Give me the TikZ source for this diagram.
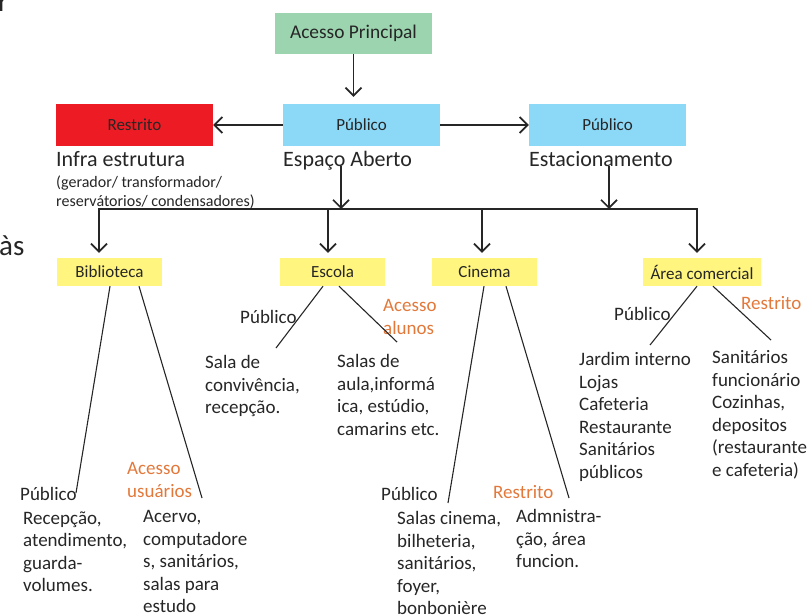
\documentclass[tikz,border=0pt]{standalone}
\usepackage{fontspec}
\setmainfont{Carlito}
\usepackage{xcolor}
\usetikzlibrary{arrows.meta}
\definecolor{accgreen}{HTML}{9BD4AE}
\definecolor{pubblue}{HTML}{8CD8F7}
\definecolor{restred}{HTML}{ED1C24}
\definecolor{areayellow}{HTML}{FFF57F}
\definecolor{accorange}{HTML}{E2783A}
\definecolor{ink}{HTML}{262626}

\begin{document}
\begin{tikzpicture}[x=1pt, y=-1pt,
    topbox/.style={minimum width=157pt, minimum height=42pt, inner sep=0pt, text=ink},
    areabox/.style={fill=areayellow, minimum width=105pt, minimum height=28pt, inner sep=0pt, text=ink, font=\fontsize{17}{20}\selectfont},
    lbl/.style={anchor=north west, yshift=15.75pt, inner sep=0pt, align=left, text=ink,
        font=\fontsize{19}{22.5}\selectfont, execute at begin node=\strut},
    para/.style={lbl, yshift=-3pt},
    olbl/.style={lbl, text=accorange},
    head/.tip={Straight Barb[length=8pt,width=16pt]},
    arr/.style={line width=1.7pt, draw=ink, -head},
    twig/.style={line width=1.1pt, draw=ink}]
    \useasboundingbox (0,0) rectangle (810,615);

    % Stray text from the page
    \node[anchor=base west, inner sep=0pt, text=ink, font=\fontsize{29}{34}\selectfont] (rfrag) at (-2,12) {r};
    \node[anchor=base west, inner sep=0pt, text=ink, font=\fontsize{29}{34}\selectfont] (as) at (-1,255) {às};

    % Top level
    \node[topbox, fill=accgreen, minimum height=41pt, font=\fontsize{19.4}{22}\selectfont] (acesso) at (353.5,33.5) {Acesso Principal};
    \node[topbox, fill=restred, font=\fontsize{17}{20}\selectfont] (infra) at (134.5,125) {Restrito};
    \node[topbox, fill=pubblue, font=\fontsize{17}{20}\selectfont] (espaco) at (361.5,125) {Público};
    \node[topbox, fill=pubblue, font=\fontsize{17}{20}\selectfont] (estac) at (607.5,125) {Público};
    \node[anchor=base west, inner sep=0pt, text=ink, font=\fontsize{22}{26}\selectfont] (infralbl) at (56,166) {Infra estrutura};
    \node[lbl, yshift=-4.5pt, font=\fontsize{16}{19}\selectfont] (infranote) at (56,187) {(gerador/ transformador/\\reservátorios/ condensadores)};
    \node[anchor=base west, inner sep=0pt, text=ink, font=\fontsize{22}{26}\selectfont] (espacolbl) at (283,166) {Espaço Aberto};
    \node[anchor=base west, inner sep=0pt, text=ink, font=\fontsize{22}{26}\selectfont] (estaclbl) at (529,166) {Estacionamento};

    % Arrows
    \draw[arr, shorten >=7pt] (acesso.south) -- (acesso.south |- espaco.north);
    \draw[arr] (espaco) -- (infra);
    \draw[arr] (espaco) -- (estac);

    % Distribution bar
    \coordinate (d1) at (99,209);
    \coordinate (d2) at (328,209);
    \coordinate (d3) at (482,209);
    \coordinate (d4) at (697,209);
    \coordinate (e1) at (341,209);
    \coordinate (e2) at (609,209);
    \draw[arr] (espacolbl.base -| e1) -- (e1);
    \draw[arr] (estaclbl.base -| e2) -- (e2);

    % Areas
    \node[areabox] (bib) at (109.5,272) {Biblioteca};
    \node[areabox] (escola) at (332.5,272) {Escola};
    \node[areabox] (cinema) at (484.5,272) {Cinema};
    \node[areabox, minimum width=118pt] (comercial) at (702,272) {Área comercial};

    \draw[arr, head-head, shorten <=5pt, shorten >=5pt]
        (d1 |- bib.north) -- (d1) -- (d4) -- (d4 |- comercial.north);
    \draw[arr, shorten >=5pt] (d2) -- (d2 |- escola.north);
    \draw[arr, shorten >=5pt] (d3) -- (d3 |- cinema.north);

    % Biblioteca
    \node[lbl] (bibpub) at (20,500) {Público};
    \node[olbl, yshift=-3pt] (bibacc) at (127,475) {Acesso\\usuários};
    \node[para] (bibrec) at (23,524) {Recepção,\\atendimento,\\guarda-\\volumes.};
    \node[para] (bibace) at (143,523) {Acervo,\\computadore\\s, sanitários,\\salas para\\estudo};
    \coordinate (b1) at (76,493);
    \coordinate (b2) at (202,498);
    \draw[twig] ([xshift=0.5pt]bib.south) -- (b1);
    \draw[twig] ([xshift=29.5pt]bib.south) -- (b2);

    % Escola
    \node[lbl] (escpub) at (240,323) {Público};
    \node[olbl, yshift=-3pt] (escacc) at (383,312) {Acesso\\alunos};
    \node[para] (escsala) at (205,368) {Sala de\\convivência,\\recepção.};
    \node[para] (escaula) at (337,367) {Salas de\\aula,informá\\ica, estúdio,\\camarins etc.};
    \coordinate (s1) at (276,348);
    \coordinate (s2) at (397,342);
    \draw[twig] ([xshift=-9.5pt]escola.south) -- (s1);
    \draw[twig] ([xshift=6.5pt]escola.south) -- (s2);

    % Cinema
    \node[lbl] (cinpub) at (381,500) {Público};
    \node[olbl] (cinrest) at (493,498) {Restrito};
    \node[para] (cinsala) at (397,524) {Salas cinema,\\bilheteria,\\sanitários,\\foyer,\\bonbonière};
    \node[para] (cinadm) at (516,522) {Admnistra-\\ção, área\\funcion.};
    \coordinate (c1) at (448,503);
    \coordinate (c2) at (569,498);
    \draw[twig] ([xshift=-0.5pt]cinema.south) -- (c1);
    \draw[twig] ([xshift=21.5pt]cinema.south) -- (c2);

    % Area comercial
    \node[lbl] (compub) at (614,320) {Público};
    \node[olbl] (comrest) at (741,309) {Restrito};
    \node[para] (comjard) at (579,365) {Jardim interno\\Lojas\\Cafeteria\\Restaurante\\Sanitários\\públicos};
    \node[para] (comsan) at (712,363) {Sanitários\\funcionário\\Cozinhas,\\depositos\\(restaurante\\e cafeteria)};
    \coordinate (a1) at (650,345);
    \coordinate (a2) at (771,340);
    \draw[twig] ([xshift=-5pt]comercial.south) -- (a1);
    \draw[twig] ([xshift=11pt]comercial.south) -- (a2);
\end{tikzpicture}
\end{document}
